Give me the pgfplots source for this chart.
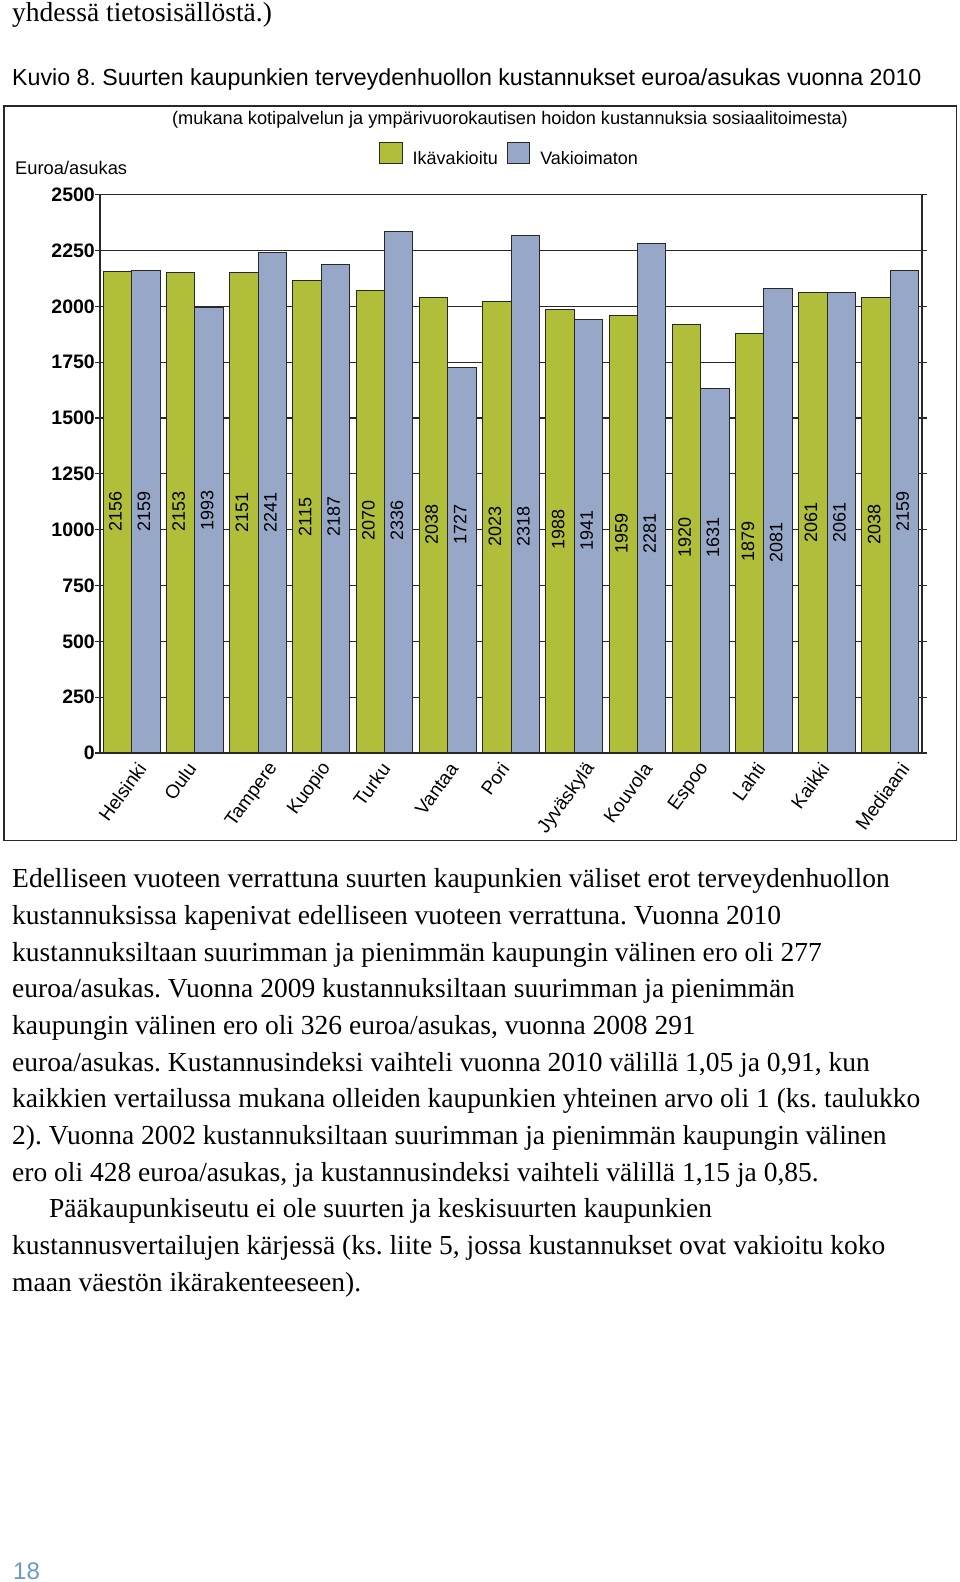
\documentclass[border=0pt]{standalone}
\usepackage{fontspec}
\setmainfont{Liberation Sans}
\newfontfamily\bodyfont{Liberation Serif}
\usepackage{pgfplots}
\usepackage{pgfplotstable}
\pgfplotsset{compat=1.18}
\definecolor{bargreen}{RGB}{176,190,58}
\definecolor{barblue}{RGB}{150,167,199}
\definecolor{pagenum}{RGB}{105,155,195}
\definecolor{edge}{RGB}{40,40,40}

\pgfplotstableread{
idx g b gy by
0 2156 2159 1080 1080
1 2153 1993 1080 1088
2 2151 2241 1075 1075
3 2115 2187 1058 1058
4 2070 2336 1039 1039
5 2038 1727 1021 1025
6 2023 2318 1016 1016
7 1988 1941 1000 996
8 1959 2281 985 981
9 1920 1631 967 963
10 1879 2081 949 943
11 2061 2061 1030 1030
12 2038 2159 1021 1080
}\data

\begin{document}
\frenchspacing
\begin{tikzpicture}
\path[use as bounding box, fill=white] (0pt,0pt) rectangle (960pt,1582pt);

% text above chart
\node[anchor=base west, inner sep=0pt, font=\bodyfont\fontsize{27.5}{32}\selectfont] at (12pt,1560.5pt) {yhdessä tietosisällöstä.)};
\node[anchor=base west, inner sep=0pt, font=\fontsize{23.2}{26}\selectfont] at (12pt,1496pt) {Kuvio 8. Suurten kaupunkien terveydenhuollon kustannukset euroa/asukas vuonna 2010};

% frame around chart
\draw[edge, line width=1.5pt] (4pt,741.3pt) rectangle (956.7pt,1476pt);
\node[anchor=base, inner sep=0pt, font=\fontsize{18.2}{21}\selectfont] at (510pt,1457pt) {(mukana kotipalvelun ja ympärivuorokautisen hoidon kustannuksia sosiaalitoimesta)};
\node[anchor=base west, inner sep=0pt, font=\fontsize{18.3}{20}\selectfont] at (15pt,1407pt) {Euroa/asukas};

\begin{axis}[
  at={(100pt,829pt)}, anchor=south west,
  scale only axis, width=822pt, height=558.3pt,
  xmin=-0.5, xmax=12.5, ymin=0, ymax=2500,
  ytick={0,250,...,2500},
  ymajorgrids, grid style={edge, line width=1.1pt},
  axis line style={edge, line width=1.4pt},
  tick align=outside, major tick length=5pt,
  ytick pos=both, yticklabel pos=left,
  y tick style={edge, line width=1.2pt},
  yticklabel style={font=\bfseries\fontsize{19.5}{21}\selectfont, inner sep=0pt},
  xtick={0.164,0.955,2.252,3.090,4.023,5.099,5.905,7.265,8.167,9.068,9.954,10.966,12.231},
  xticklabels={Helsinki,Oulu,Tampere,Kuopio,Turku,Vantaa,Pori,Jyväskylä,Kouvola,Espoo,Lahti,Kaikki,Mediaani},
  x tick style={draw=none},
  xticklabel style={anchor=east, rotate=54, inner sep=0pt, font=\fontsize{19}{21}\selectfont},
  xticklabel shift=7pt,
  /pgf/number format/assume math mode=true,
  /pgf/number format/1000 sep={},
  legend columns=2,
  legend style={at={(0.3358,1.0729)}, anchor=west, draw=none, fill=none,
    font=\fontsize{18}{20}\selectfont, nodes={inner sep=0pt},
    /tikz/every odd column/.append style={column sep=10pt},
    /tikz/every even column/.append style={column sep=9pt}},
  legend image code/.code={\draw[#1] (0pt,-5pt) rectangle (22.5pt,16.5pt);},
]
\addplot[ybar, bar width=0.45, bar shift=0pt, fill=bargreen, draw=edge, line width=1pt]
  table[x expr=\coordindex-0.225, y=g] {\data};
\addlegendentry{Ikävakioitu}
\addplot[ybar, bar width=0.45, bar shift=0pt, fill=barblue, draw=edge, line width=1pt]
  table[x expr=\coordindex+0.225, y=b] {\data};
\addlegendentry{Vakioimaton}

\addplot[draw=none, mark=none, forget plot, nodes near coords, point meta=explicit,
  every node near coord/.style={rotate=90, anchor=center, inner sep=0pt, font=\fontsize{18}{20}\selectfont}]
  table[x expr=\coordindex-0.255, y=gy, meta=g] {\data};
\addplot[draw=none, mark=none, forget plot, nodes near coords, point meta=explicit,
  every node near coord/.style={rotate=90, anchor=center, inner sep=0pt, font=\fontsize{18}{20}\selectfont}]
  table[x expr=\coordindex+0.195, y=by, meta=b] {\data};
\end{axis}

% body text
\begin{scope}[every node/.style={anchor=base west, inner sep=0pt, font=\bodyfont\fontsize{27.5}{32}\selectfont}]
\node at (12pt,694pt) {Edelliseen vuoteen verrattuna suurten kaupunkien väliset erot terveydenhuollon};
\node at (12pt,657.3pt) {kustannuksissa kapenivat edelliseen vuoteen verrattuna. Vuonna 2010};
\node at (12pt,620.7pt) {kustannuksiltaan suurimman ja pienimmän kaupungin välinen ero oli 277};
\node at (12pt,584pt) {euroa/asukas. Vuonna 2009 kustannuksiltaan suurimman ja pienimmän};
\node at (12pt,547.3pt) {kaupungin välinen ero oli 326 euroa/asukas, vuonna 2008 291};
\node at (12pt,510.7pt) {euroa/asukas. Kustannusindeksi vaihteli vuonna 2010 välillä 1,05 ja 0,91, kun};
\node at (12pt,474pt) {kaikkien vertailussa mukana olleiden kaupunkien yhteinen arvo oli 1 (ks. taulukko};
\node at (12pt,437.3pt) {2). Vuonna 2002 kustannuksiltaan suurimman ja pienimmän kaupungin välinen};
\node at (12pt,400.7pt) {ero oli 428 euroa/asukas, ja kustannusindeksi vaihteli välillä 1,15 ja 0,85.};
\node at (49pt,364pt) {Pääkaupunkiseutu ei ole suurten ja keskisuurten kaupunkien};
\node at (12pt,327.3pt) {kustannusvertailujen kärjessä (ks. liite 5, jossa kustannukset ovat vakioitu koko};
\node at (12pt,290.7pt) {maan väestön ikärakenteeseen).};
\end{scope}

\node[anchor=base west, inner sep=0pt, text=pagenum, font=\fontsize{24}{26}\selectfont] at (13pt,2pt) {18};
\end{tikzpicture}
\end{document}
